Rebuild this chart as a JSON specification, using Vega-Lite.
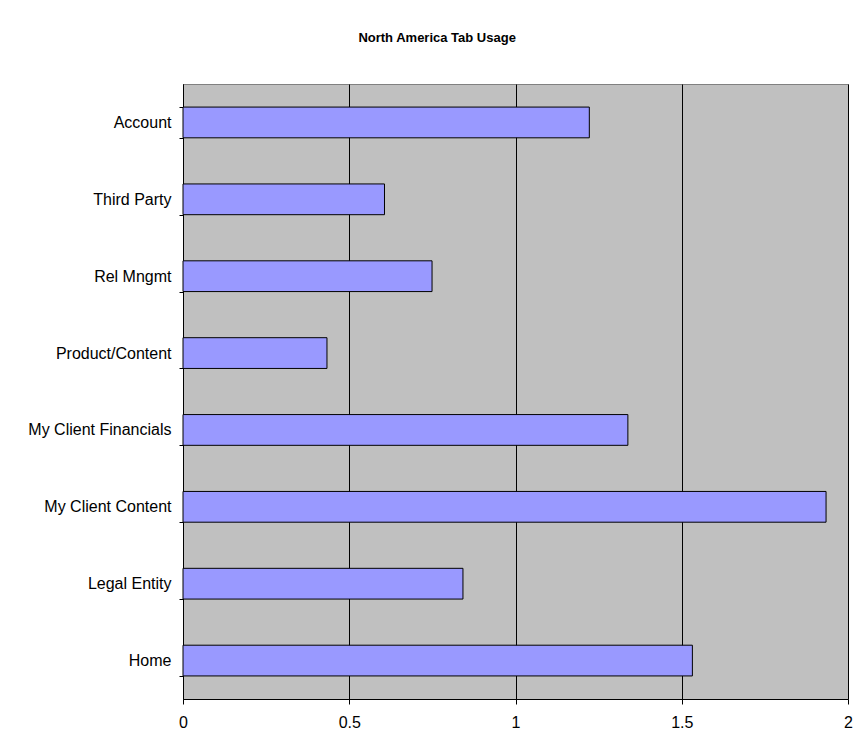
{
  "$schema": "https://vega.github.io/schema/vega-lite/v6.json",
  "autosize": {"type": "none"},
  "width": 665,
  "height": 615,
  "padding": {"left": 183, "top": 84, "right": 18, "bottom": 52},
  "background": "white",
  "title": {
    "text": "North America Tab Usage",
    "font": "Liberation Sans",
    "fontSize": 13,
    "fontWeight": "bold",
    "color": "black",
    "anchor": "middle",
    "frame": "bounds",
    "offset": 31,
    "dx": -3
  },
  "data": {
    "values": [
      {"tab": "Account", "usage": 1.222},
      {"tab": "Third Party", "usage": 0.606},
      {"tab": "Rel Mngmt", "usage": 0.749},
      {"tab": "Product/Content", "usage": 0.433},
      {"tab": "My Client Financials", "usage": 1.338},
      {"tab": "My Client Content", "usage": 1.934},
      {"tab": "Legal Entity", "usage": 0.842},
      {"tab": "Home", "usage": 1.532}
    ]
  },
  "mark": {"type": "bar", "fill": "#9999FF", "stroke": "black", "strokeWidth": 1},
  "encoding": {
    "y": {
      "field": "tab",
      "type": "nominal",
      "sort": null,
      "scale": {"paddingInner": 0.6, "paddingOuter": 0.3},
      "axis": {
        "title": null,
        "tickBand": "extent",
        "tickSize": 4,
        "labelPadding": 8,
        "grid": false
      }
    },
    "x": {
      "field": "usage",
      "type": "quantitative",
      "scale": {"domain": [0, 2], "nice": false},
      "axis": {
        "title": null,
        "values": [0, 0.5, 1, 1.5, 2],
        "format": "~g",
        "labelFlush": false,
        "grid": true,
        "gridColor": "black",
        "gridOpacity": 1,
        "tickSize": 5,
        "labelPadding": 10
      }
    }
  },
  "config": {
    "view": {"fill": "#C0C0C0", "stroke": "#808080", "strokeWidth": 1},
    "axis": {
      "labelFont": "Liberation Sans",
      "labelFontSize": 16,
      "labelColor": "black",
      "domainColor": "black",
      "tickColor": "black",
      "domainWidth": 1,
      "tickWidth": 1
    }
  }
}
